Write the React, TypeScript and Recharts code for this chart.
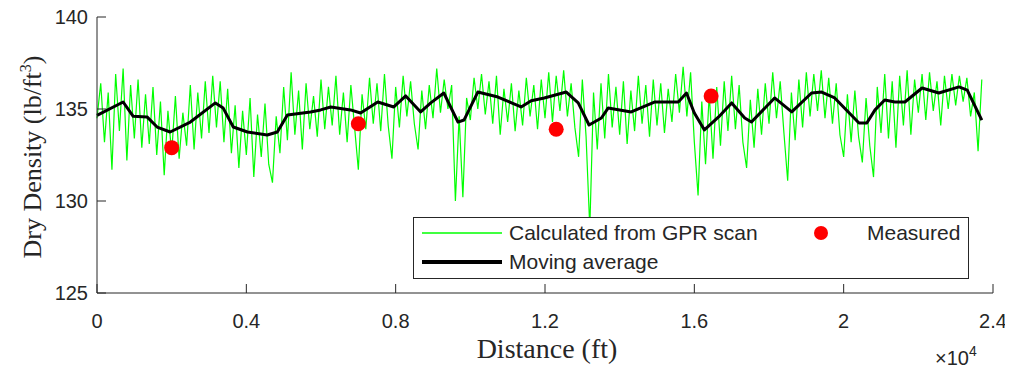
import { ComposedChart, Line, Scatter, XAxis, YAxis, Legend } from "recharts";

// GPR-derived dry density, sampled every 100 ft from 0 to 23700 ft
const gprStep = 100;
const gprDensity = [
  134.5, 136.4, 133.2, 135.9, 131.7, 136.9, 133.8, 137.2, 132.2, 136.3,
  133.4, 136.6, 132.9, 135.8, 133.1, 136.2, 132.5, 135.4, 131.4, 134.9,
  132.6, 135.7, 132.3, 134.8, 133.0, 136.3, 132.8, 135.9, 133.4, 136.5,
  133.7, 136.8, 134.0, 136.5, 133.2, 136.1, 132.6, 135.2, 131.8, 134.9,
  132.5, 135.6, 131.3, 134.7, 132.4, 135.3, 132.0, 131.0, 134.6, 132.6,
  136.2, 133.3, 137.0, 133.6, 136.0, 132.8, 136.4, 133.9, 135.7, 133.5,
  136.6, 133.9, 136.2, 134.1, 136.8, 133.6, 135.9, 133.2, 136.3, 134.0,
  131.7, 135.8, 133.9, 136.7, 134.2, 136.4, 133.8, 136.9, 134.1, 132.3,
  136.2, 134.0, 136.8, 134.6, 136.5, 134.2, 132.8, 136.0, 133.9, 136.3,
  134.5, 137.2, 134.8, 136.6, 135.0, 136.3, 130.0, 134.6, 130.2, 135.6,
  134.4, 136.7, 135.0, 136.9, 134.7, 136.5, 134.2, 136.8, 133.6, 136.1,
  134.3, 136.4, 133.8, 136.0, 134.1, 136.7, 134.6, 136.3, 133.9, 136.6,
  134.5, 137.0, 134.3, 136.8, 134.9, 137.1, 134.6, 136.4, 134.0, 132.4,
  136.6, 133.5, 128.5, 135.9, 132.8, 136.4, 133.4, 136.9, 134.0, 136.2,
  133.6, 136.5, 133.1, 136.0, 133.8, 136.8, 134.2, 136.3, 133.5, 136.6,
  134.1, 136.4, 133.7, 136.1, 134.3, 136.9, 134.8, 137.3, 134.6, 137.0,
  133.2, 130.3, 135.4, 132.0, 135.8, 132.3, 136.2, 133.0, 136.5, 133.8,
  136.8, 133.9, 136.3, 133.2, 131.8, 135.5, 132.9, 136.1, 133.6, 136.4,
  134.2, 137.0, 134.5, 136.5, 133.7, 131.1, 135.9, 133.3, 136.6, 134.0,
  137.0, 134.6, 136.9, 134.9, 137.1, 134.5, 136.7, 134.2, 136.4, 133.6,
  132.4, 135.8, 133.2, 136.0, 133.5, 132.1, 135.6, 133.0, 131.3, 136.2,
  133.7, 136.9, 133.4, 136.5, 132.9, 136.8, 134.1, 137.1, 133.6, 136.6,
  134.8, 136.9, 134.4, 137.0, 134.9, 136.5, 134.1, 136.8, 135.0, 136.9,
  135.2, 136.8, 135.4, 136.7, 134.6, 135.9, 132.7, 136.6,
];

// moving average
const maDistance = [
  0, 700, 970, 1340, 1610, 1960, 2500, 3170, 3380, 3650, 4030, 4560, 4830,
  5100, 5720, 5990, 6260, 6790, 7060, 7520, 7950, 8270, 8670, 8940, 9290,
  9670, 9830, 10200, 10740, 11360, 11630, 11980, 12570, 12890, 13180, 13510,
  13690, 14310, 14930, 15570, 15790, 16000, 16270, 16650, 17000, 17350, 17530,
  18150, 18610, 19140, 19410, 19760, 20410, 20620, 20840, 21100, 21370, 21640,
  22100, 22550, 23090, 23310, 23700,
];
const maDensity = [
  134.65, 135.38, 134.6, 134.57, 134.02, 133.75, 134.29, 135.33, 135.05, 134.02,
  133.75, 133.59, 133.75, 134.67, 134.84, 134.95, 135.11, 134.95, 134.78, 135.38,
  135.11, 135.71, 134.84, 135.33, 135.87, 134.29, 134.4, 135.92, 135.65, 135.11,
  135.45, 135.6, 135.92, 135.33, 134.13, 134.51, 135.05, 134.84, 135.38, 135.38,
  135.87, 134.78, 133.86, 134.57, 135.33, 134.51, 134.29, 135.6, 134.84, 135.87,
  135.92, 135.6, 134.24, 134.24, 134.95, 135.49, 135.38, 135.38, 136.14, 135.87,
  136.2, 136.03, 134.4,
];

// core measurements
const measuredDistance = [2000, 7000, 12300, 16450];
const measuredDensity = [132.9, 134.2, 133.9, 135.7];

const xTicks = [0, 4000, 8000, 12000, 16000, 20000, 24000];
const yTicks = [125, 130, 135, 140];

const gprData = gprDensity.map((y, i) => ({ x: i * gprStep, y }));
const maData = maDistance.map((x, i) => ({ x, y: maDensity[i] }));
const measuredData = measuredDistance.map((x, i) => ({ x, y: measuredDensity[i] }));

const axisColor = "#262626";
const sans = "'Liberation Sans', Arial, Helvetica, sans-serif";
const serif = "'Liberation Serif', 'Times New Roman', serif";

const XTick = (props: any) => {
  const { x, y, payload } = props;
  return (
    <g>
      <line x1={x} x2={x} y1={y} y2={y - 9} stroke={axisColor} />
      <text x={x} y={y + 35} textAnchor="middle" fontFamily={sans} fontSize={20} fill={axisColor}>
        {payload.value / 10000}
      </text>
    </g>
  );
};

const YTick = (props: any) => {
  const { x, y, payload } = props;
  return (
    <g>
      <line x1={x} x2={x + 9} y1={y} y2={y} stroke={axisColor} />
      <text x={x - 9} y={y + 7} textAnchor="end" fontFamily={sans} fontSize={20} fill={axisColor}>
        {payload.value}
      </text>
    </g>
  );
};

const XLabel = (props: any) => {
  const { x, y, width } = props.viewBox;
  return (
    <g>
      <text x={x + width / 2 + 2} y={y + 65} textAnchor="middle" fontFamily={serif} fontSize={28} fill={axisColor}>
        Distance (ft)
      </text>
      <text x={x + width - 58} y={y + 72} fontFamily={sans} fontSize={20} fill={axisColor}>
        ×10<tspan dy={-9} fontSize={14}>4</tspan>
      </text>
    </g>
  );
};

const YLabel = (props: any) => {
  const { y, height } = props.viewBox;
  const cx = 33;
  const cy = y + height / 2 + 2;
  return (
    <text
      x={cx}
      y={cy}
      transform={`rotate(-90 ${cx} ${cy})`}
      textAnchor="middle"
      fontFamily={serif}
      fontSize={26}
      fill={axisColor}
    >
      Dry Density (lb/ft<tspan dy={-10} fontSize={16}>3</tspan>
      <tspan dy={10}>)</tspan>
    </text>
  );
};

const LegendBox = () => (
  <svg width={556} height={62} style={{ display: "block", background: "#fff" }}>
    <rect x={0.5} y={0.5} width={555} height={61} fill="#fff" stroke={axisColor} />
    <line x1={9} x2={89} y1={16} y2={16} stroke="#00ff00" strokeWidth={1.5} />
    <text x={96} y={23} fontFamily={sans} fontSize={21} fill={axisColor}>
      Calculated from GPR scan
    </text>
    <circle cx={408} cy={16} r={7} fill="#ff0000" />
    <text x={454} y={23} fontFamily={sans} fontSize={21} fill={axisColor}>
      Measured
    </text>
    <line x1={9} x2={89} y1={45} y2={45} stroke="#000" strokeWidth={4} />
    <text x={96} y={52} fontFamily={sans} fontSize={21} fill={axisColor}>
      Moving average
    </text>
  </svg>
);

export default function App() {
  return (
    <div style={{ marginTop: -8 }}>
      <ComposedChart width={1000} height={370} margin={{ top: 17, right: 15, left: 0, bottom: 0 }}>
        <XAxis
          type="number"
          dataKey="x"
          domain={[0, 24000]}
          ticks={xTicks}
          interval={0}
          tickSize={0}
          tickMargin={0}
          tickLine={false}
          tick={<XTick />}
          height={77}
          axisLine={{ stroke: axisColor }}
          label={<XLabel />}
        />
        <YAxis
          type="number"
          dataKey="y"
          domain={[125, 140]}
          ticks={yTicks}
          interval={0}
          allowDataOverflow
          tickSize={0}
          tickMargin={0}
          tickLine={false}
          tick={<YTick />}
          width={89}
          axisLine={{ stroke: axisColor }}
          label={<YLabel />}
        />
        <Line
          data={gprData}
          dataKey="y"
          type="linear"
          stroke="#00ff00"
          strokeWidth={1.2}
          dot={false}
          isAnimationActive={false}
        />
        <Line
          data={maData}
          dataKey="y"
          type="linear"
          stroke="#000"
          strokeWidth={3}
          strokeLinejoin="round"
          dot={false}
          isAnimationActive={false}
        />
        <Scatter data={measuredData} dataKey="y" fill="#ff0000" shape={(p: any) => <circle cx={p.cx} cy={p.cy} r={7.5} fill="#ff0000" />} isAnimationActive={false} />
        <Legend
          layout="vertical"
          align="center"
          verticalAlign="middle"
          content={<LegendBox />}
          wrapperStyle={{ left: 405, top: 217, width: 556, height: 62 }}
        />
      </ComposedChart>
    </div>
  );
}
